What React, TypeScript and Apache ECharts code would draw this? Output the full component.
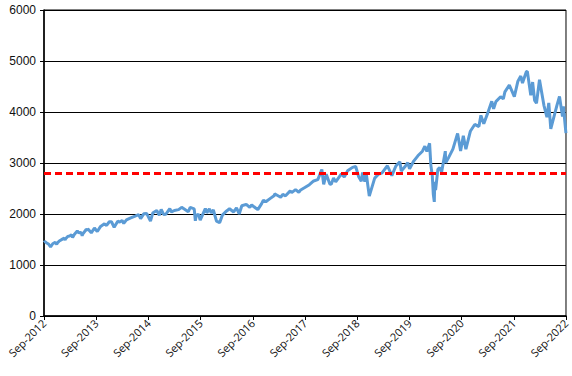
import React, { useEffect, useRef } from "react";
import * as echarts from "echarts";

const startDate = "2012-09-30";
const xYearLabels = ["2012", "2013", "2014", "2015", "2016", "2017", "2018", "2019", "2020", "2021", "2022"];
const referenceLevel = 2800;

const dates = [
  "2012-10-01","2012-10-05","2012-10-19","2012-10-31","2012-11-15","2012-11-30","2012-12-18","2012-12-28","2012-12-31",
  "2013-01-15","2013-01-31","2013-02-19","2013-02-25","2013-02-28","2013-03-15","2013-03-28","2013-04-11","2013-04-18","2013-04-30",
  "2013-05-21","2013-05-31","2013-06-17","2013-06-24","2013-06-28","2013-07-22","2013-07-31","2013-08-02","2013-08-27","2013-08-30",
  "2013-09-18","2013-09-30","2013-10-08","2013-10-31","2013-11-27","2013-12-12","2013-12-31",
  "2014-01-15","2014-02-03","2014-02-28","2014-03-14","2014-03-31","2014-04-11","2014-04-30","2014-05-30","2014-06-30","2014-07-24",
  "2014-08-07","2014-08-29","2014-09-18","2014-10-15","2014-10-31","2014-11-28","2014-12-16","2014-12-29",
  "2015-01-15","2015-01-30","2015-02-27","2015-03-11","2015-03-31","2015-04-30","2015-05-21","2015-06-29","2015-07-07","2015-07-20",
  "2015-08-17","2015-08-25","2015-08-31","2015-09-16","2015-09-28","2015-10-30","2015-11-03","2015-11-13","2015-12-01","2015-12-14","2015-12-29",
  "2016-01-20","2016-02-11","2016-03-01","2016-03-31","2016-04-20","2016-05-19","2016-06-08","2016-06-27","2016-07-15","2016-08-15",
  "2016-09-09","2016-09-22","2016-11-04","2016-11-30","2016-12-13","2016-12-30",
  "2017-01-26","2017-02-28","2017-03-01","2017-04-13","2017-04-28","2017-05-17","2017-06-19","2017-06-29","2017-07-26","2017-08-18",
  "2017-08-31","2017-09-29","2017-10-31","2017-11-30","2017-12-29",
  "2018-01-26","2018-02-08","2018-02-26","2018-03-23","2018-04-02","2018-04-18","2018-05-03","2018-06-12","2018-07-02","2018-07-25",
  "2018-08-29","2018-09-20","2018-10-11","2018-10-29","2018-11-07","2018-11-23","2018-12-03","2018-12-24",
  "2019-01-31","2019-02-28","2019-03-22","2019-04-30","2019-05-31","2019-06-28","2019-07-26","2019-08-05","2019-08-30","2019-09-19",
  "2019-10-02","2019-10-31","2019-11-29","2019-12-31",
  "2020-01-17","2020-01-31","2020-02-19","2020-02-28","2020-03-09","2020-03-16","2020-03-23","2020-03-26","2020-04-01","2020-04-17",
  "2020-04-30","2020-05-13","2020-06-08","2020-06-11","2020-06-30","2020-07-31","2020-09-02","2020-09-23","2020-10-12","2020-10-30",
  "2020-11-30","2020-12-31",
  "2021-01-29","2021-02-12","2021-03-04","2021-03-31","2021-04-29","2021-05-12","2021-05-28","2021-06-30","2021-07-19","2021-07-30",
  "2021-08-30","2021-09-02","2021-10-04","2021-10-29","2021-11-18","2021-11-30","2021-12-27",
  "2022-01-03","2022-01-27","2022-02-09","2022-02-23","2022-03-08","2022-03-29","2022-04-29","2022-05-20","2022-06-02","2022-06-16",
  "2022-07-29","2022-08-16","2022-09-06","2022-09-12","2022-09-30"
];

const values = [
  1444,1460,1433,1412,1353,1416,1446,1402,1426,
  1472,1498,1530,1488,1515,1561,1569,1593,1541,1598,
  1669,1631,1640,1573,1606,1696,1686,1710,1631,1633,
  1725,1682,1656,1757,1807,1775,1848,
  1848,1741,1859,1841,1872,1815,1884,1924,1960,1988,
  1910,2003,2011,1862,2018,2068,1973,2091,
  1992,1995,2104,2040,2068,2086,2131,2058,2047,2129,
  2102,1868,1972,1996,1882,2079,2110,2023,2103,2022,2078,
  1859,1829,1978,2060,2102,2040,2119,2001,2162,2190,
  2128,2177,2085,2199,2272,2239,
  2297,2364,2396,2329,2384,2357,2453,2419,2477,2426,
  2472,2519,2575,2648,2674,
  2873,2581,2780,2588,2582,2708,2630,2787,2726,2846,
  2914,2931,2728,2641,2814,2633,2790,2351,
  2704,2784,2801,2946,2752,2942,3026,2844,2926,3006,
  2887,3038,3141,3231,
  3330,3226,3386,2954,2747,2386,2237,2630,2471,2875,
  2912,2820,3232,3002,3100,3271,3580,3237,3535,3270,
  3622,3756,
  3714,3934,3768,3973,4211,4063,4204,4298,4258,4395,
  4529,4537,4301,4605,4705,4567,4791,
  4797,4327,4587,4226,4171,4632,4132,3901,4177,3667,
  4130,4305,3909,4110,3586
];

const YEAR_MS = 365.2425 * 86400000;

export default function App() {
  const ref = useRef<HTMLDivElement>(null);
  useEffect(() => {
    document.body.style.margin = "0";
    if (!ref.current) return;
    const chart = echarts.init(ref.current, null, { renderer: "svg" });
    const t0 = Date.parse(startDate);
    const seriesData = dates.map((d, i) => [(Date.parse(d) - t0) / YEAR_MS, values[i]]);
    chart.setOption({
      animation: false,
      grid: {
        left: 44,
        right: 6,
        top: 10,
        bottom: 60,
        show: true,
        borderColor: "#000",
        borderWidth: 1,
        containLabel: false,
      },
      xAxis: {
        type: "value",
        min: 0,
        max: 10,
        interval: 1,
        axisLine: { show: true, onZero: false, lineStyle: { color: "#000", width: 1.5 } },
        axisTick: { show: true, length: 4, lineStyle: { color: "#000" } },
        splitLine: { show: false },
        axisLabel: {
          rotate: 45,
          color: "#111",
          fontFamily: "Open Sans",
          fontSize: 11,
          margin: 5,
          formatter: (v: number) => "Sep-" + xYearLabels[Math.round(v)],
        },
      },
      yAxis: {
        type: "value",
        min: 0,
        max: 6000,
        interval: 1000,
        axisLine: { show: true, lineStyle: { color: "#000", width: 1.5 } },
        axisTick: { show: true, length: 4, lineStyle: { color: "#000" } },
        splitLine: { show: true, lineStyle: { color: "#000", width: 1 } },
        axisLabel: {
          color: "#111",
          fontFamily: "Liberation Sans",
          fontSize: 12,
          margin: 8,
          formatter: (v: number) => String(v),
        },
      },
      series: [
        {
          type: "line",
          data: seriesData,
          showSymbol: false,
          symbol: "none",
          smooth: false,
          lineStyle: { color: "#5B9BD5", width: 3 },
          markLine: {
            silent: true,
            symbol: ["none", "none"],
            label: { show: false },
            lineStyle: { color: "#FF0000", width: 3, type: [7, 4] },
            data: [{ yAxis: referenceLevel }],
          },
        },
      ],
    });
    return () => chart.dispose();
  }, []);
  return <div ref={ref} style={{ width: 572, height: 376 }} />;
}
